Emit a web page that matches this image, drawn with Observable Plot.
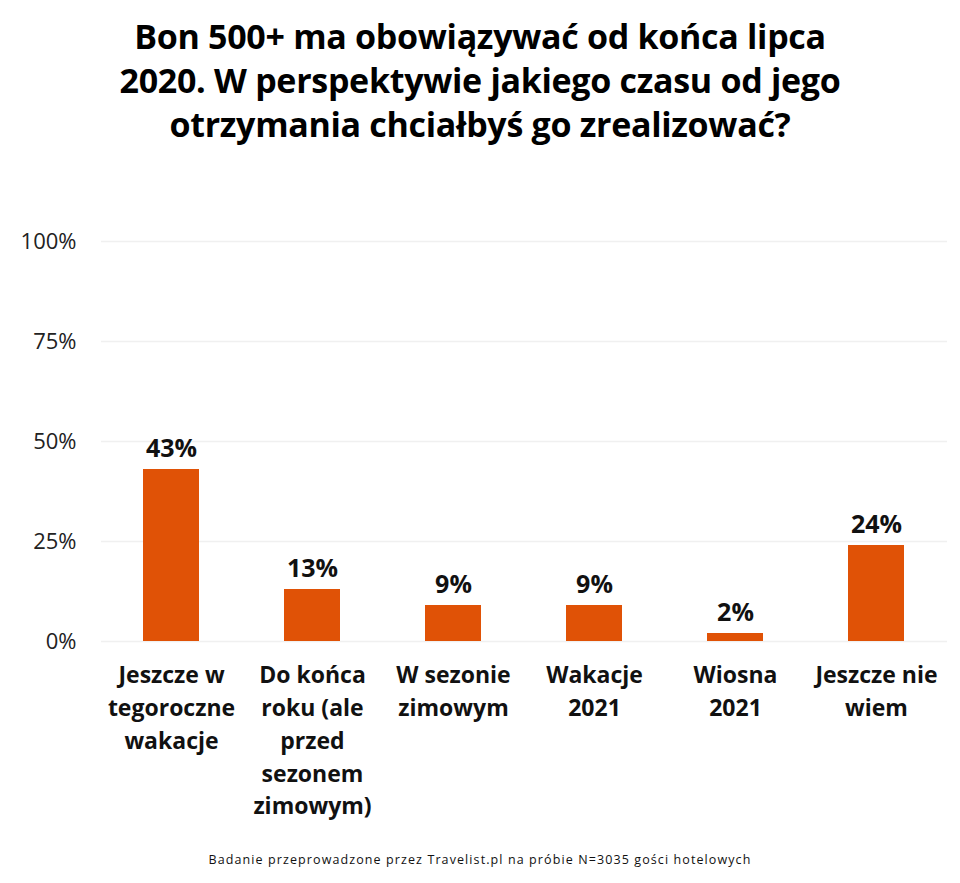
<!DOCTYPE html>
<html>
<head>
<meta charset="utf-8">
<script src="https://cdn.jsdelivr.net/npm/d3@7"></script>
<script src="https://cdn.jsdelivr.net/npm/@observablehq/plot@0.6"></script>
<style>
  html, body { margin: 0; padding: 0; background: #fff; }
  body { width: 960px; font-family: "Open Sans", "Noto Sans", sans-serif; }
  #title { margin: 0; padding-top: 14px; text-align: center; font-weight: 700; font-size: 34px; line-height: 44px; color: #000; letter-spacing: -0.3px; }
  #caption { text-align: center; font-size: 12.5px; letter-spacing: 1.1px; color: #111; margin-top: 21px; }
  #chart svg { display: block; }
</style>
</head>
<body>
<div id="title">Bon 500+ ma obowiązywać od końca lipca<br>2020. W perspektywie jakiego czasu od jego<br>otrzymania chciałbyś go zrealizować?</div>
<div id="chart"></div>
<div id="caption">Badanie przeprowadzone przez Travelist.pl na próbie N=3035 gości hotelowych</div>
<script>
const categories = ["Jeszcze w tegoroczne wakacje", "Do końca roku (ale przed sezonem zimowym)", "W sezonie zimowym", "Wakacje 2021", "Wiosna 2021", "Jeszcze nie wiem"];
const tickLabels = ["Jeszcze w\ntegoroczne\nwakacje", "Do końca\nroku (ale\nprzed\nsezonem\nzimowym)", "W sezonie\nzimowym", "Wakacje\n2021", "Wiosna\n2021", "Jeszcze nie\nwiem"];
const values = [43, 13, 9, 9, 2, 24];
const yTicks = [0, 25, 50, 75, 100];

const data = categories.map((c, i) => ({category: c, value: values[i]}));
const labelOf = new Map(categories.map((c, i) => [c, tickLabels[i]]));

const chart = Plot.plot({
  width: 960,
  height: 684,
  marginTop: 95,
  marginBottom: 189,
  marginLeft: 101,
  marginRight: 13,
  style: {fontFamily: "'Open Sans', 'Noto Sans', sans-serif", background: "#fff"},
  x: {domain: categories, paddingInner: 0.6, paddingOuter: 0.3, align: 0.5},
  y: {domain: [0, 100]},
  marks: [
    Plot.gridY(yTicks, {stroke: "#f0f0f0", strokeOpacity: 1, strokeWidth: 1.5}),
    Plot.barY(data, {x: "category", y: "value", fill: "#e05206"}),
    Plot.text(data, {x: "category", y: "value", text: d => d.value + "%", dy: -21, fontSize: 25, fontWeight: 700, fill: "#111"}),
    Plot.axisY(yTicks, {tickSize: 0, tickPadding: 25, tickFormat: d => d + "%", fontSize: 22, fill: "#222", label: null}),
    Plot.axisX({tickSize: 0, tickPadding: 18, tickFormat: d => labelOf.get(d), fontSize: 23, fontWeight: 700, fill: "#111", lineHeight: 1.43, label: null})
  ]
});
document.getElementById("chart").appendChild(chart);
</script>
</body>
</html>
